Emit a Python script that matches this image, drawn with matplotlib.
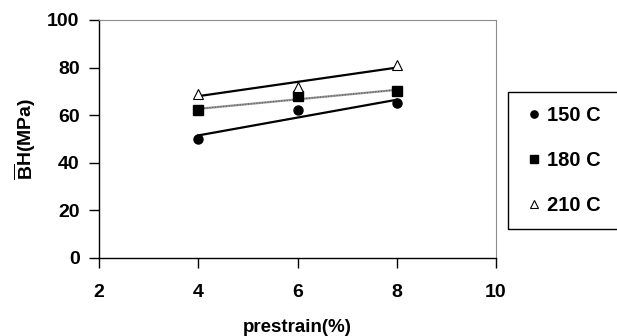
import matplotlib
matplotlib.use("Agg")
import matplotlib.pyplot as plt
from matplotlib.patches import Rectangle
import numpy as np

plt.rcParams['font.family'] = ['Liberation Sans', 'DejaVu Sans']
plt.rcParams['font.weight'] = 'bold'
plt.rcParams['mathtext.fontset'] = 'custom'
plt.rcParams['mathtext.rm'] = 'Liberation Sans:bold'

# prestrain levels and bake-hardening values per ageing temperature
prestrain = [4, 6, 8]
bh_150 = [50, 62, 65]
bh_180 = [62, 68, 70]
bh_210 = [69, 72, 81]
labels = ["150 C", "180 C", "210 C"]

fig = plt.figure(figsize=(6.17, 3.36), dpi=100)
ax = fig.add_axes([99 / 617, 1 - 258 / 336, (496 - 99) / 617, (258 - 20) / 336])

def trend(x, y):
    # least squares linear trendline over the measured range
    k, b = np.polyfit(x, y, 1)
    xs = np.array([min(x), max(x)])
    return xs, k * xs + b

x = np.array(prestrain, dtype=float)

xs, ys = trend(x, bh_150)
ax.plot(xs, ys, color='black', lw=1.6, zorder=2)
xs, ys = trend(x, bh_180)
ax.plot(xs, ys, color='#9a9a9a', lw=1.6, zorder=2)
ax.plot(xs, ys, color='#555555', lw=0.8, ls=(0, (1, 1.5)), zorder=2)
xs, ys = trend(x, bh_210)
ax.plot(xs, ys, color='black', lw=1.6, zorder=2)

h1, = ax.plot(x, bh_150, 'o', color='black', ms=6.5, ls='none', zorder=3)
h2, = ax.plot(x, bh_180, 's', color='black', ms=6.5, ls='none', zorder=3)
h3, = ax.plot(x, bh_210, '^', mfc='white', mec='black', mew=0.8, ms=7.5, ls='none', zorder=4)

ax.set_xlim(2, 10)
ax.set_ylim(0, 100)
ax.set_xticks([2, 4, 6, 8, 10])
ax.set_yticks([0, 20, 40, 60, 80, 100])
ax.tick_params(axis='x', direction='out', length=7, width=1, pad=12, labelsize=14)
ax.tick_params(axis='y', direction='out', length=7, width=1, pad=7, labelsize=14)

for side in ('top', 'right'):
    ax.spines[side].set_color('#8c8c8c')
    ax.spines[side].set_linewidth(0.8)
for side in ('left', 'bottom'):
    ax.spines[side].set_color('black')
    ax.spines[side].set_linewidth(1.0)

ax.set_xlabel('prestrain(%)', fontsize=13.5, fontweight='bold')
ax.xaxis.set_label_coords(0.5, -(327 - 258) / 238, transform=ax.transAxes)
ax.xaxis.label.set_va('center')
ax.set_ylabel(r'$\overline{\mathrm{B}}$H(MPa)', fontsize=14, fontweight='bold')
ax.yaxis.set_label_coords(-(99 - 25) / 397, 0.5, transform=ax.transAxes)
ax.yaxis.label.set_va('center')

# legend box runs off the right edge
fig.patches.append(Rectangle((508 / 617, 1 - 229 / 336), 0.3, (229 - 92) / 336,
                             transform=fig.transFigure, fill=False,
                             edgecolor='black', lw=1.0))
fig.legend([h1, h2, h3], labels, loc='upper left',
           bbox_to_anchor=(529 / 617, 1 - 106 / 336), frameon=False,
           prop={'size': 14.5, 'weight': 'bold'}, handlelength=0.5,
           handletextpad=0.4, labelspacing=1.3, borderaxespad=0,
           borderpad=0, markerscale=0.8)

fig.savefig('out.png', dpi=100)
